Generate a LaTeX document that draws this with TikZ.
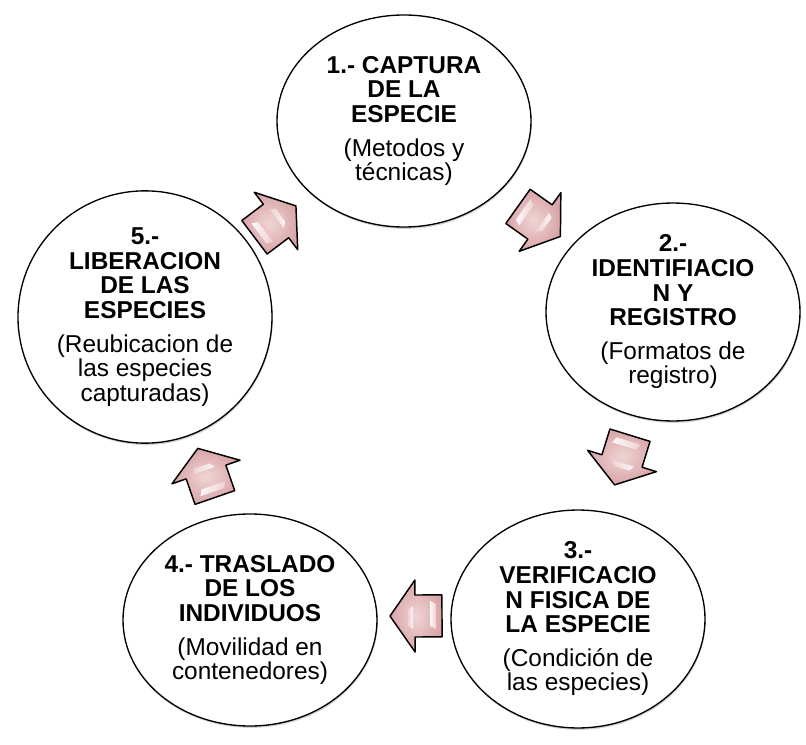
\documentclass[tikz,border=0pt]{standalone}
\usepackage{fontspec}
\setmainfont{Liberation Sans}
\usetikzlibrary{calc,shadows,shapes.geometric}
\definecolor{pinkL}{RGB}{240,212,213}
\definecolor{pinkD}{RGB}{216,164,167}
\tikzset{
  stage/.style={ellipse, draw=black, line width=1pt, fill=white,
    minimum width=190.5pt, minimum height=159pt, inner sep=0pt, align=center,
    font=\fontsize{18.3pt}{18.4pt}\selectfont,
    drop shadow={shadow xshift=0.5pt, shadow yshift=-1.4pt, opacity=0.35}},
  cyc/.pic={
    \draw[line width=1.1pt, line join=round, inner color=pinkL, outer color=pinkD]
      (-27,-21) -- (0,-21) -- (0,-36) -- (25,0) -- (0,36) -- (0,21) -- (-27,21) -- cycle;
    \shade[left color=white, right color=pinkL, opacity=.9]
      (-21,-12) -- (-15,-15) -- (-15,10) -- (-21,13) -- cycle;
    \shade[left color=pinkL, right color=white, opacity=.85]
      (2,-10) -- (7,-6) -- (7,10) -- (2,13) -- cycle;
  }
}
\begin{document}
\begin{tikzpicture}[x=0.75pt,y=0.75pt]
\useasboundingbox (0,0) rectangle (806,-745);
\fill[white] (0,0) rectangle (806,-745);

\node[stage] (e1) at (404,-121) {\textbf{1.- CAPTURA}\\\textbf{DE LA}\\\textbf{ESPECIE}\\[7pt](Metodos y\\técnicas)};
\node[stage] (e2) at (673,-312) {\textbf{2.-}\\\textbf{IDENTIFIACIO}\\\textbf{N Y}\\\textbf{REGISTRO}\\[7pt](Formatos de\\registro)};
\node[stage] (e3) at (578,-619) {\textbf{3.-}\\\textbf{VERIFICACIO}\\\textbf{N FISICA DE}\\\textbf{LA ESPECIE}\\[7pt](Condición de\\las especies)};
\node[stage] (e4) at (250,-620) {\textbf{4.- TRASLADO}\\\textbf{DE LOS}\\\textbf{INDIVIDUOS}\\[7pt](Movilidad en\\contenedores)};
\node[stage] (e5) at (145,-317) {\textbf{5.-}\\\textbf{LIBERACION}\\\textbf{DE LAS}\\\textbf{ESPECIES}\\[7pt](Reubicacion de\\las especies\\capturadas)};

\foreach \a/\b/\dx/\dy in {e1/e2/1.5/-5.5, e2/e3/-3.5/4.5, e3/e4/1/3.5, e4/e5/8.5/-3.5, e5/e1/1.5/-2}{
  \path let \p1=($(\b)-(\a)$), \n1={atan2(\y1,\x1)} in
    ($(\a)!0.5!(\b)+(\dx,\dy)$) pic[rotate=\n1] {cyc};
}
\end{tikzpicture}
\end{document}
